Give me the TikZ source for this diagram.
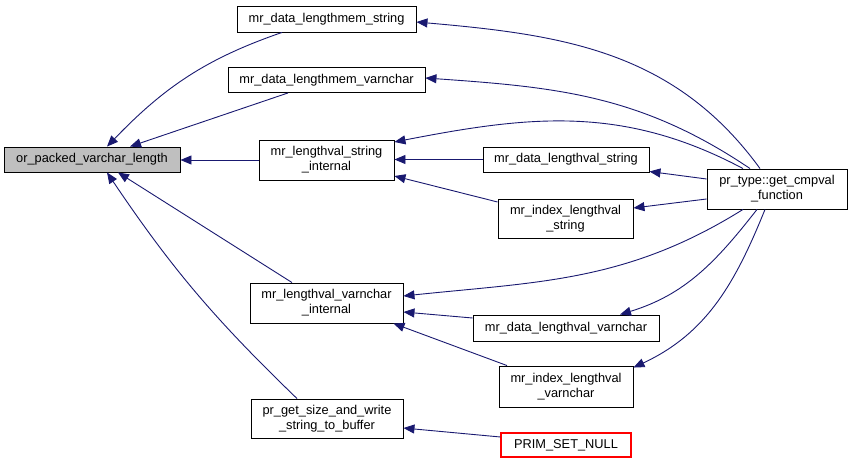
\documentclass[tikz,border=0pt]{standalone}
\usepackage{fontspec}
\setmainfont{Liberation Sans}
\usetikzlibrary{arrows.meta,calc}
\definecolor{edgeblue}{HTML}{191970}
\definecolor{nodegray}{HTML}{BFBFBF}
\definecolor{primred}{HTML}{FF0000}
\tikzset{
  fn/.style={draw=black, line width=0.9pt, fill=white, inner sep=0pt, align=center,
    font=\fontsize{12.8}{15}\selectfont},
  fnred/.style={fn, color=primred, fill=white, text=black, line width=1.1pt},
  edge/.style={draw=edgeblue, line width=0.9pt, -{Triangle[length=11pt,width=9pt]}}
}
\begin{document}
\begin{tikzpicture}[x=1pt,y=1pt]
\useasboundingbox (0,0) rectangle (852,464);
\node[fn, fill=nodegray, minimum width=176, minimum height=25] (opv) at (92,304.5) {or\_packed\_varchar\_length};
\node[fn, minimum width=179, minimum height=26] (dms) at (326.5,445) {mr\_data\_lengthmem\_string};
\node[fn, minimum width=197, minimum height=25] (dmv) at (326.5,384) {mr\_data\_lengthmem\_varnchar};
\node[fn, minimum width=135, minimum height=40] (lsi) at (326.5,304) {mr\_lengthval\_string\\\_internal};
\node[fn, minimum width=153, minimum height=40] (lvi) at (326.5,161) {mr\_lengthval\_varnchar\\\_internal};
\node[fn, minimum width=152, minimum height=39] (pgs) at (327,45.5) {pr\_get\_size\_and\_write\\\_string\_to\_buffer};
\node[fnred, minimum width=130, minimum height=24] (psn) at (566,19) {PRIM\_SET\_NULL};
\node[fn, minimum width=186, minimum height=26] (dlv) at (566,136) {mr\_data\_lengthval\_varnchar};
\node[fn, minimum width=134, minimum height=41] (ilv) at (566,77.5) {mr\_index\_lengthval\\\_varnchar};
\node[fn, minimum width=166, minimum height=25] (dls) at (566,304.5) {mr\_data\_lengthval\_string};
\node[fn, minimum width=135, minimum height=39] (ils) at (565.5,245.5) {mr\_index\_lengthval\\\_string};
\node[fn, minimum width=140, minimum height=40] (pt) at (777,275) {pr\_type::get\_cmpval\\\_function};

\draw[edge] ($(dms.south)+(-44.5,0)$) to[out=199,in=46] ($(opv.north)+(15,0)$);
\draw[edge] ($(dmv.south)+(-38.5,0)$) -- ($(opv.north)+(38,0)$);
\draw[edge] (lsi.west) -- (lsi.west -| opv.east);
\draw[edge] ($(lvi.north)+(-34.5,0)$) -- ($(opv.south)+(26,0)$);
\draw[edge] ($(pgs.north)+(-30,0)$) to[out=136,in=-56] ($(opv.south)+(15,0)$);
\draw[edge] ($(pt.north)+(-17,0)$) to[out=126,in=-5] ($(dms.east)+(0,-3)$);
\draw[edge] ($(pt.north)+(-27,0)$) to[out=146,in=-4] ($(dmv.east)+(0,2)$);
\draw[edge] ($(pt.north)+(-34,0)$) to[out=152,in=11] ($(lsi.east)+(0,18)$);
\draw[edge] (dls.west) -- (dls.west -| lsi.east);
\draw[edge] ($(ils.west)+(0,16.5)$) -- ($(lsi.east)+(0,-16)$);
\draw[edge] ($(pt.west)+(0,10)$) -- ($(dls.east)+(0,-12)$);
\draw[edge] ($(pt.west)+(0,-10)$) -- ($(ils.east)+(0,10.5)$);
\draw[edge] ($(pt.south)+(-34,0)$) to[out=212,in=6] ($(lvi.east)+(0,7)$);
\draw[edge] ($(dlv.west)+(0,10)$) -- ($(lvi.east)+(0,-9)$);
\draw[edge] ($(ilv.north)+(-59,0)$) -- ($(lvi.south east)+(-10,0)$);
\draw[edge] ($(pt.south)+(-20,0)$) to[out=232,in=17] ($(dlv.north)+(54,0)$);
\draw[edge] ($(pt.south)+(-12,0)$) to[out=248,in=25] ($(ilv.north east)+(0,-2)$);
\draw[edge] ($(psn.west)+(0,8)$) -- ($(pgs.east)+(0,-9.5)$);
\end{tikzpicture}
\end{document}
